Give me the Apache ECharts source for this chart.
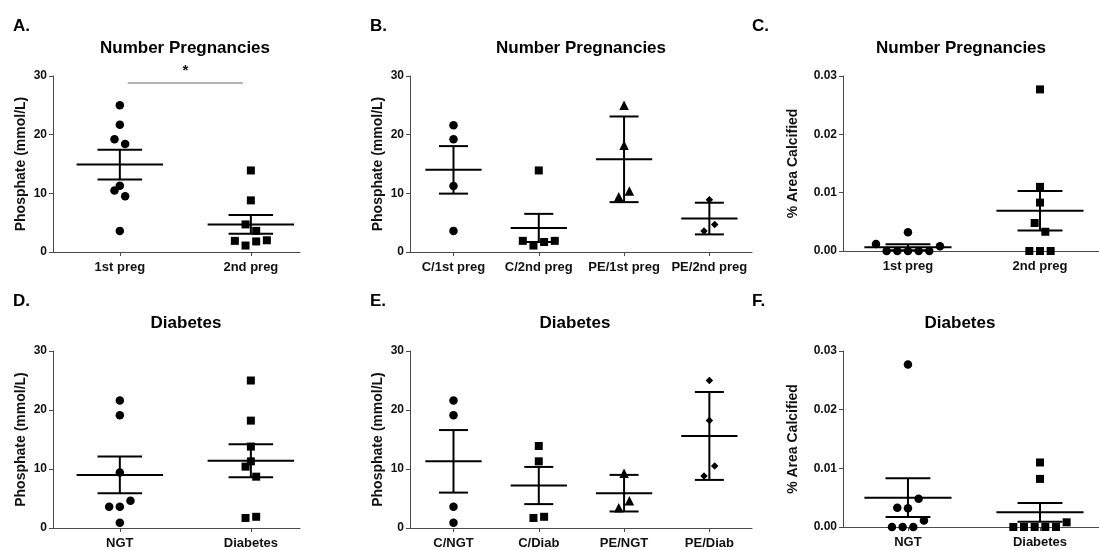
<!DOCTYPE html>
<html><head><meta charset="utf-8">
<script src="https://cdn.jsdelivr.net/npm/echarts@6/dist/echarts.min.js"></script>
<style>html,body{margin:0;padding:0;background:#fff}#c{width:1099px;height:550px}</style>
</head><body><div id="c"></div>
<script>
const FONT = '"Liberation Sans", Arial, Helvetica, sans-serif';

// ---- Panel A: Number Pregnancies (phosphate) ----
const catA = ['1st preg', '2nd preg'];
const a1 = [25, 21.7, 19.2, 18.4, 11.3, 10.5, 9.5, 3.6];
const a1Slot = [0, 0, -1, 1, 0, -1, 1, 0];
const a2 = [13.9, 8.8, 4.7, 3.6, 1.9, 1.8, 2.0, 1.1];
const a2Slot = [0, 0, -1, 1, -3, 1, 3, -1];
const meanA = [14.9, 4.7];
const semA = [2.55, 1.6];
const sigA = [1.06, 1.94, 28.8];

// ---- Panel B: Number Pregnancies by group (phosphate) ----
const catB = ['C/1st preg', 'C/2nd preg', 'PE/1st preg', 'PE/2nd preg'];
const b1 = [21.6, 19.2, 11.25, 3.6];      const b1Slot = [0, 0, 0, 0];
const b2 = [13.9, 1.9, 1.1, 1.7, 1.9];    const b2Slot = [0, -3, -1, 1, 3];
const b3 = [25, 18.2, 10.4, 9.4];         const b3Slot = [0, 0, 1, -1];
const b4 = [8.9, 4.7, 3.6];               const b4Slot = [0, 1, -1];
const meanB = [14.0, 4.1, 15.8, 5.7];
const semB = [4.05, 2.4, 7.3, 2.7];

// ---- Panel C: Number Pregnancies (% area calcified) ----
const catC = ['1st preg', '2nd preg'];
const c1 = [0.0032, 0.0012, 0.0008, 0, 0, 0, 0, 0];          const c1Slot = [0, -6, 6, -4, -2, 0, 2, 4];
const c2 = [0.0277, 0.011, 0.0083, 0.0048, 0.0033, 0, 0, 0]; const c2Slot = [0, 0, 0, -1, 1, -2, 0, 2];
const meanC = [0.00065, 0.0069];
const semC = [0.0005, 0.0034];

// ---- Panel D: Diabetes (phosphate) ----
const catD = ['NGT', 'Diabetes'];
const d1 = [21.6, 19.1, 9.4, 4.6, 3.6, 3.6, 0.9];          const d1Slot = [0, 0, 0, 2, -2, 0, 0];
const d2 = [25, 18.2, 13.8, 11.3, 10.4, 8.7, 1.7, 1.9];    const d2Slot = [0, 0, 0, 0, -1, 1, -1, 1];
const meanD = [9.0, 11.4];
const semD = [3.1, 2.8];

// ---- Panel E: Diabetes by group (phosphate) ----
const catE = ['C/NGT', 'C/Diab', 'PE/NGT', 'PE/Diab'];
const e1 = [21.6, 19.1, 3.6, 0.9];   const e1Slot = [0, 0, 0, 0];
const e2 = [13.9, 11.3, 1.7, 1.9];   const e2Slot = [0, 0, -1, 1];
const e3 = [9.3, 4.6, 3.45];         const e3Slot = [0, 1, -1];
const e4 = [25, 18.2, 10.5, 8.8];    const e4Slot = [0, 0, 1, -1];
const meanE = [11.3, 7.2, 5.9, 15.6];
const semE = [5.3, 3.15, 3.1, 7.45];

// ---- Panel F: Diabetes (% area calcified) ----
const catF = ['NGT', 'Diabetes'];
const f1 = [0.0277, 0.0048, 0.0033, 0.0032, 0.0011, 0, 0, 0]; const f1Slot = [0, 2, -2, 0, 3, -3, -1, 1];
const f2 = [0.011, 0.0082, 0.0008, 0, 0, 0, 0, 0];            const f2Slot = [0, 0, 5, -5, -3, -1, 1, 3];
const meanF = [0.005, 0.0025];
const semF = [0.0033, 0.0016];

const yPhos = [0, 10, 20, 30];
const yCalc = [0, 0.01, 0.02, 0.03];

// ---- layout / styles ----
const SLOT = 5.33;
const SYM_SIZE = { circle: 8.5, rect: 8, triangle: 9.5, diamond: 7.5 };
const AXIS_COLOR = '#4a4a4a';

const panels = [
  { letter: 'A.', title: 'Number Pregnancies', cats: catA,
    groups: [[a1, a1Slot, 'circle'], [a2, a2Slot, 'rect']], mean: meanA, sem: semA,
    yName: 'Phosphate (mmol/L)', yTicks: yPhos, dec: 0, nameGap: 25,
    grid: { left: 53, top: 76, width: 247, height: 176 }, xr: [0.49, 2.375], titleX: 185, letterX: 13, row: 0, sig: sigA },
  { letter: 'B.', title: 'Number Pregnancies', cats: catB,
    groups: [[b1, b1Slot, 'circle'], [b2, b2Slot, 'rect'], [b3, b3Slot, 'triangle'], [b4, b4Slot, 'diamond']], mean: meanB, sem: semB,
    yName: 'Phosphate (mmol/L)', yTicks: yPhos, dec: 0, nameGap: 25,
    grid: { left: 410, top: 76, width: 342, height: 176 }, xr: [0.49, 4.5], titleX: 581, letterX: 370, row: 0 },
  { letter: 'C.', title: 'Number Pregnancies', cats: catC,
    groups: [[c1, c1Slot, 'circle'], [c2, c2Slot, 'rect']], mean: meanC, sem: semC,
    yName: '% Area Calcified', yTicks: yCalc, dec: 2, nameGap: 43,
    grid: { left: 843, top: 76, width: 256, height: 175 }, xr: [0.508, 2.447], titleX: 961, letterX: 752, row: 0 },
  { letter: 'D.', title: 'Diabetes', cats: catD,
    groups: [[d1, d1Slot, 'circle'], [d2, d2Slot, 'rect']], mean: meanD, sem: semD,
    yName: 'Phosphate (mmol/L)', yTicks: yPhos, dec: 0, nameGap: 25,
    grid: { left: 53, top: 351, width: 247, height: 177 }, xr: [0.49, 2.375], titleX: 186, letterX: 13, row: 1 },
  { letter: 'E.', title: 'Diabetes', cats: catE,
    groups: [[e1, e1Slot, 'circle'], [e2, e2Slot, 'rect'], [e3, e3Slot, 'triangle'], [e4, e4Slot, 'diamond']], mean: meanE, sem: semE,
    yName: 'Phosphate (mmol/L)', yTicks: yPhos, dec: 0, nameGap: 25,
    grid: { left: 410, top: 351, width: 342, height: 177 }, xr: [0.49, 4.5], titleX: 575, letterX: 370, row: 1 },
  { letter: 'F.', title: 'Diabetes', cats: catF,
    groups: [[f1, f1Slot, 'circle'], [f2, f2Slot, 'rect']], mean: meanF, sem: semF,
    yName: '% Area Calcified', yTicks: yCalc, dec: 2, nameGap: 43,
    grid: { left: 843, top: 351, width: 256, height: 176 }, xr: [0.508, 2.447], titleX: 960, letterX: 752, row: 1 }
];

function errorBar(params, api) {
  const x = api.value(0), m = api.value(1), s = api.value(2);
  const u = api.size([1, 0])[0];
  const c = api.coord([x, m]), t = api.coord([x, m + s]), b = api.coord([x, m - s]);
  const style = { stroke: '#000', lineWidth: 2 };
  return { type: 'group', children: [
    { type: 'line', shape: { x1: c[0] - 0.33 * u, y1: c[1], x2: c[0] + 0.33 * u, y2: c[1] }, style },
    { type: 'line', shape: { x1: c[0], y1: t[1], x2: c[0], y2: b[1] }, style },
    { type: 'line', shape: { x1: c[0] - 0.17 * u, y1: t[1], x2: c[0] + 0.17 * u, y2: t[1] }, style },
    { type: 'line', shape: { x1: c[0] - 0.17 * u, y1: b[1], x2: c[0] + 0.17 * u, y2: b[1] }, style }
  ] };
}

function sigBar(params, api) {
  const p1 = api.coord([api.value(0), api.value(2)]);
  const p2 = api.coord([api.value(1), api.value(2)]);
  return { type: 'group', children: [
    { type: 'line', shape: { x1: p1[0], y1: p1[1], x2: p2[0], y2: p2[1] }, style: { stroke: '#9a9a9a', lineWidth: 1.5 } },
    { type: 'text', x: (p1[0] + p2[0]) / 2, y: p1[1] - 5,
      style: { text: '*', fontFamily: FONT, fontWeight: 'bold', fontSize: 15, fill: '#111', align: 'center', verticalAlign: 'bottom' } }
  ] };
}

const grid = [], xAxis = [], yAxis = [], series = [], graphic = [];
panels.forEach((p, i) => {
  grid.push(p.grid);
  const catIdx = p.cats.map((_, k) => k + 1);
  xAxis.push({
    gridIndex: i, type: 'value', min: p.xr[0], max: p.xr[1],
    axisLine: { show: true, onZero: false, lineStyle: { color: AXIS_COLOR, width: 1 } },
    axisTick: { show: true, customValues: catIdx, length: 4, lineStyle: { color: AXIS_COLOR } },
    axisLabel: { show: true, customValues: catIdx, formatter: v => p.cats[Math.round(v) - 1] || '',
      fontFamily: FONT, fontWeight: 'bold', fontSize: 13, color: '#111', margin: 9 },
    splitLine: { show: false }
  });
  const yt = p.yTicks;
  yAxis.push({
    gridIndex: i, type: 'value', min: yt[0], max: yt[yt.length - 1], interval: yt[1] - yt[0],
    axisLine: { show: true, lineStyle: { color: AXIS_COLOR, width: 1 } },
    axisTick: { show: true, length: 4, lineStyle: { color: AXIS_COLOR } },
    axisLabel: { formatter: v => Number(v).toFixed(p.dec), fontFamily: FONT, fontWeight: 'bold', fontSize: 12, color: '#111', margin: 6 },
    splitLine: { show: false },
    name: p.yName, nameLocation: 'middle', nameGap: p.nameGap,
    nameTextStyle: { fontFamily: FONT, fontWeight: 'bold', fontSize: 14, color: '#111' }
  });
  p.groups.forEach((g, gi) => {
    series.push({
      type: 'scatter', xAxisIndex: i, yAxisIndex: i, symbol: g[2], symbolSize: SYM_SIZE[g[2]],
      itemStyle: { color: '#000', opacity: 1 }, silent: true, z: 2,
      data: g[0].map((v, k) => ({ value: [gi + 1, v], symbolOffset: [g[1][k] * SLOT, 0] }))
    });
  });
  series.push({
    type: 'custom', xAxisIndex: i, yAxisIndex: i, silent: true, z: 3,
    data: p.mean.map((m, k) => [k + 1, m, p.sem[k]]), renderItem: errorBar
  });
  if (p.sig) {
    series.push({ type: 'custom', xAxisIndex: i, yAxisIndex: i, silent: true, z: 3,
      data: [p.sig], renderItem: sigBar });
  }
  const rowY = p.row * 275;
  graphic.push({ type: 'text', x: p.letterX, y: 26 + rowY,
    style: { text: p.letter, fontFamily: FONT, fontWeight: 'bold', fontSize: 17, fill: '#000', verticalAlign: 'middle' } });
  graphic.push({ type: 'text', x: p.titleX, y: 48.5 + rowY,
    style: { text: p.title, fontFamily: FONT, fontWeight: 'bold', fontSize: 17, fill: '#000', align: 'center', verticalAlign: 'middle' } });
});

const chart = echarts.init(document.getElementById('c'), null, { renderer: 'canvas' });
chart.setOption({
  backgroundColor: '#fff', animation: false,
  grid, xAxis, yAxis, series, graphic
});
</script></body></html>
